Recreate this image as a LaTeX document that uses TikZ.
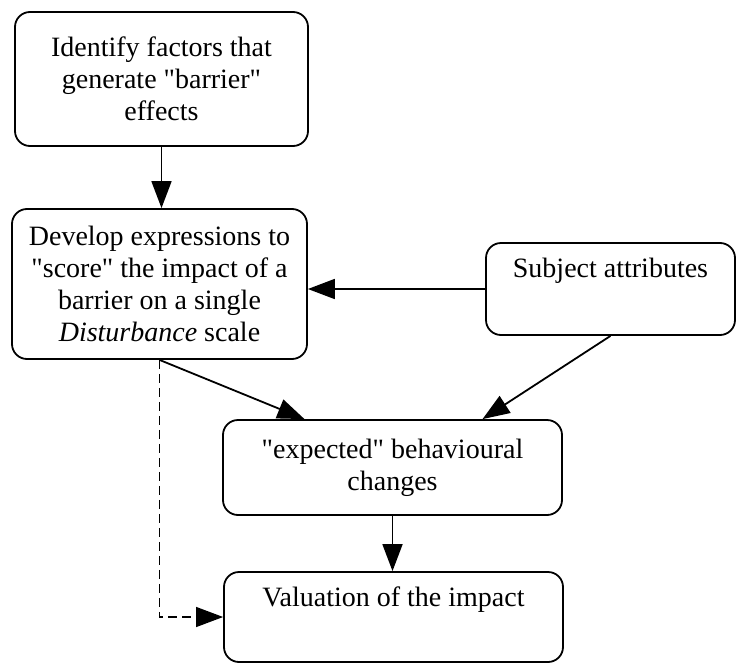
\documentclass[tikz,border=0pt]{standalone}
\usepackage{fontspec}
\setmainfont{Liberation Serif}
\usetikzlibrary{arrows.meta,calc}
\newcommand{\dq}{\textquotedbl}

\begin{document}
\begin{tikzpicture}
	[x=1pt,y=-1pt,line width=1.8pt,
	every node/.style={shape=rectangle,rounded corners=15pt,draw,line width=1.8pt,align=center,inner sep=4pt,font=\fontsize{28}{32}\selectfont},
	arr/.style={-{Triangle[length=27pt,width=20pt]}}]
	\useasboundingbox (0,0) rectangle (737,664);
	\node[minimum width=293pt,minimum height=134pt] (ident) at (161.5,79) {Identify factors that\\generate \dq barrier\dq\\effects};
	\node[minimum width=295pt,minimum height=150pt] (develop) at (159.5,284) {Develop expressions to\\\dq score\dq{} the impact of a\\barrier on a single\\\textit{Disturbance} scale};
	\node[minimum width=249pt,minimum height=92pt] (subject) at (610.5,289) {Subject attributes\\\strut};
	\node[minimum width=339pt,minimum height=95pt] (expected) at (392.5,467.5) {\dq expected\dq{} behavioural\\changes};
	\node[minimum width=339pt,minimum height=90pt] (valuation) at (393.5,617) {Valuation of the impact\\\strut};
	
	\draw[arr] (ident.south) -- (ident.south |- develop.north);
	\draw[arr] (subject.west) -- (subject.west -| develop.east);
	\draw[arr] (develop.south) -- ([xshift=-88pt]expected.north);
	\draw[arr] (subject.south) -- ([xshift=90pt]expected.north);
	\draw[arr] (expected.south) -- (expected.south |- valuation.north);
	\draw[arr,line width=1.2pt,dash pattern=on 9pt off 5pt] (develop.south) |- (valuation.west);
\end{tikzpicture}
\end{document}
